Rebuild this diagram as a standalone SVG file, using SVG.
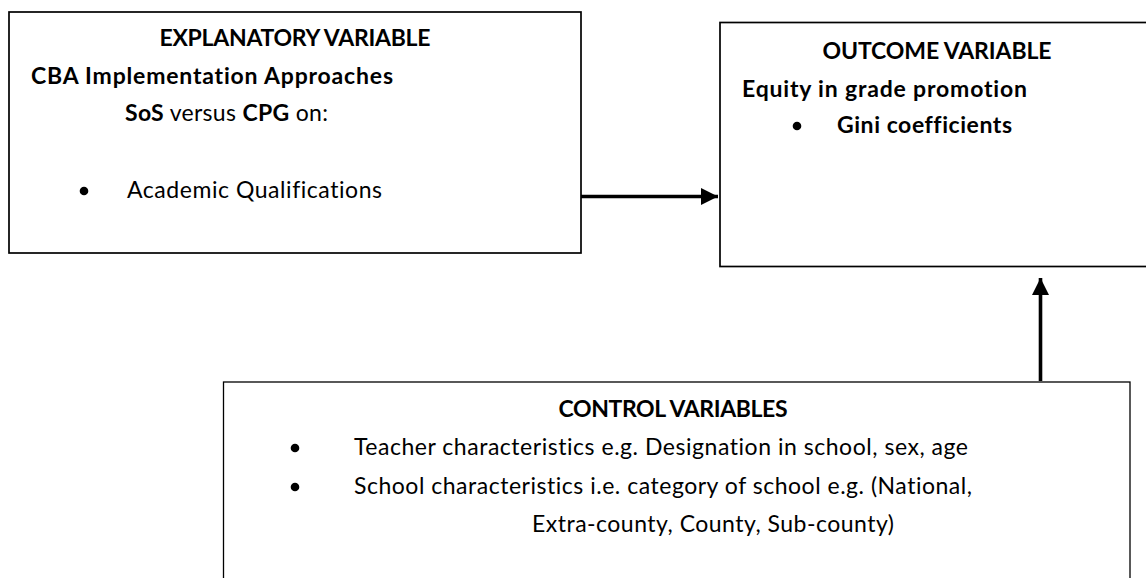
<svg xmlns="http://www.w3.org/2000/svg" width="1146" height="578" viewBox="0 0 1146 578">
  <defs>
    <style>
      .box { fill: #ffffff; stroke: #000000; stroke-width: 1.7; }
      .box-thin { fill: #ffffff; stroke: #000000; stroke-width: 1.3; }
      .t { font-family: Lato, "Liberation Sans", sans-serif; font-size: 23px; fill: #000000;
           font-variant-ligatures: none; font-feature-settings: "liga" 0, "dlig" 0; }
      .b { font-weight: 700; }
      .r { font-weight: 400; }
      .mid { text-anchor: middle; }
      .dot { fill: #000000; }
      .link { stroke: #000000; stroke-width: 3.6; fill: none; }
    </style>
    <marker id="head" markerUnits="userSpaceOnUse" markerWidth="17" markerHeight="17" viewBox="0 0 16 16" refX="16" refY="8" orient="auto">
      <path d="M0,0 L16,8 L0,16 Z" fill="#000000"/>
    </marker>
  </defs>

  <rect width="1146" height="578" fill="#ffffff"/>

  <!-- explanatory variable -->
  <g id="explanatory">
    <rect class="box" x="9" y="12" width="572" height="241"/>
    <text class="t b mid" x="295" y="46" textLength="271">EXPLANATORY VARIABLE</text>
    <text class="t b" x="31" y="84" textLength="362">CBA Implementation Approaches</text>
    <text class="t" x="125" y="121" textLength="203"><tspan class="b">SoS</tspan><tspan class="r"> versus </tspan><tspan class="b">CPG</tspan><tspan class="r"> on:</tspan></text>
    <circle class="dot" cx="84" cy="191" r="4.3"/>
    <text class="t r" x="127" y="198" textLength="255">Academic Qualifications</text>
  </g>

  <!-- outcome variable -->
  <g id="outcome">
    <rect class="box" x="720" y="22.5" width="480" height="244"/>
    <text class="t b mid" x="937" y="59" textLength="229">OUTCOME VARIABLE</text>
    <text class="t b" x="742" y="97" textLength="285">Equity in grade promotion</text>
    <circle class="dot" cx="797" cy="126" r="4.3"/>
    <text class="t b" x="837" y="133" textLength="175">Gini coefficients</text>
  </g>

  <!-- control variables -->
  <g id="control">
    <rect class="box-thin" x="223.5" y="382" width="906.5" height="230"/>
    <text class="t b mid" x="673" y="417" textLength="229">CONTROL VARIABLES</text>
    <circle class="dot" cx="295" cy="448" r="4.3"/>
    <text class="t r" x="354" y="455" textLength="614">Teacher characteristics e.g. Designation in school, sex, age</text>
    <circle class="dot" cx="295" cy="487" r="4.3"/>
    <text class="t r" x="354" y="494" textLength="618">School characteristics i.e. category of school e.g. (National,</text>
    <text class="t r" x="532" y="532" textLength="362">Extra-county, County, Sub-county)</text>
  </g>

  <!-- connectors -->
  <g id="connectors">
    <line class="link" x1="581" y1="196.5" x2="718" y2="196.5" marker-end="url(#head)"/>
    <line class="link" x1="1040.5" y1="381" x2="1040.5" y2="278" marker-end="url(#head)"/>
  </g>
</svg>
